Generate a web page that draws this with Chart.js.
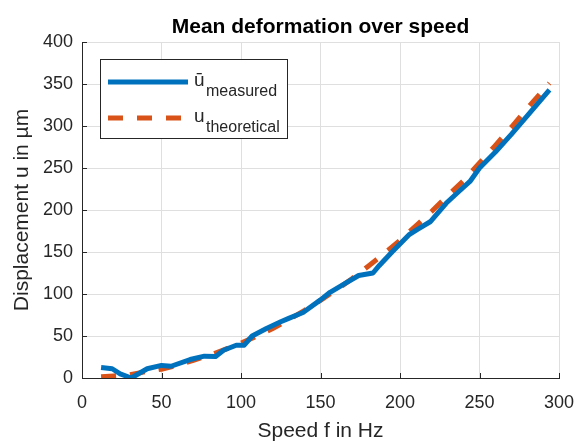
<!DOCTYPE html>
<html>
<head>
<meta charset="utf-8">
<script src="https://cdn.jsdelivr.net/npm/chart.js@4"></script>
<style>
  html, body { margin: 0; padding: 0; background: #fff; }
  #chart { display: block; }
</style>
</head>
<body>
<canvas id="chart" width="577" height="441"></canvas>
<script>
// values
const measuredSpeed = [12, 19, 24, 31, 41, 50, 56, 68, 77, 84, 89, 97, 102, 107, 116, 125, 130, 139, 150, 156,
    165, 174, 183, 187, 195, 206, 211, 219, 229, 237, 244, 250, 260, 270, 280, 294]
const measuredU = [12.5, 11, 5, 0, 11, 15, 14, 22, 26, 25.5, 33, 39, 39, 50, 59, 67, 71, 78, 93, 102,
    112, 122, 125, 134, 150, 171, 177, 186, 208, 222, 234, 250, 269, 290, 312, 343]

const theorySpeed = [12, 20, 30, 40, 50, 60, 70, 80, 90, 100, 110, 120, 130, 140, 150, 160, 170, 180, 190, 200,
    210, 220, 230, 240, 250, 260, 270, 280, 294]
const theoryU = [1.5, 2.5, 4, 7.5, 10.5, 15, 21, 27, 34, 41.5, 50, 59, 69.5, 80.5, 92.5, 105, 118.5, 133, 148, 164,
    181, 198.5, 217, 235, 256, 277, 298.5, 321, 351]

const legendNames = [['ū', 'measured'], ['u', 'theoretical']]
const chartTitle = 'Mean deformation over speed'

const FONT = "'Liberation Sans', Arial, sans-serif"
const BLUE = '#0072BD'
const ORANGE = '#D95319'
const AXIS = '#262626'
const GRID = '#dfdfdf'

function toPoints(xs, ys) {
    return xs.map((x, i) => ({ x: x, y: ys[i] }))
}

// title centred on the plot area, plus inward ticks
const axesExtras = {
    id: 'axesExtras',
    afterDraw(chart) {
        const ctx = chart.ctx
        const area = chart.chartArea
        const xs = chart.scales.x
        const ys = chart.scales.y
        ctx.save()
        ctx.strokeStyle = AXIS
        ctx.lineWidth = 1
        ctx.beginPath()
        for (const t of xs.ticks) {
            const px = Math.round(xs.getPixelForValue(t.value)) + 0.5
            ctx.moveTo(px, area.bottom)
            ctx.lineTo(px, area.bottom - 5)
        }
        for (const t of ys.ticks) {
            const py = Math.round(ys.getPixelForValue(t.value)) + 0.5
            ctx.moveTo(area.left, py)
            ctx.lineTo(area.left + 5, py)
        }
        ctx.stroke()

        ctx.fillStyle = '#000'
        ctx.font = 'bold 21px ' + FONT
        ctx.textAlign = 'center'
        ctx.textBaseline = 'alphabetic'
        ctx.fillText(chartTitle, (area.left + area.right) / 2, 33)
        ctx.restore()
    }
}

// legend with subscripts, drawn in the upper left corner
const subLegend = {
    id: 'subLegend',
    afterDraw(chart) {
        const ctx = chart.ctx
        ctx.save()
        ctx.fillStyle = '#fff'
        ctx.fillRect(100, 59, 188, 80)
        ctx.strokeStyle = AXIS
        ctx.lineWidth = 1
        ctx.strokeRect(100.5, 59.5, 187, 79)

        const rows = [82, 118]
        chart.data.datasets.forEach((ds, i) => {
            const y = rows[i]
            ctx.strokeStyle = ds.borderColor
            ctx.lineWidth = ds.borderWidth
            ctx.lineCap = 'butt'
            ctx.setLineDash(ds.borderDash || [])
            ctx.beginPath()
            ctx.moveTo(108, y)
            ctx.lineTo(188, y)
            ctx.stroke()
            ctx.setLineDash([])

            ctx.fillStyle = AXIS
            ctx.textAlign = 'left'
            ctx.textBaseline = 'alphabetic'
            ctx.font = '19px ' + FONT
            ctx.fillText(legendNames[i][0], 194, y + 4)
            ctx.font = '16px ' + FONT
            ctx.fillText(legendNames[i][1], 206, y + 14)
        })
        ctx.restore()
    }
}

const ctx = document.getElementById('chart').getContext('2d')
const chart = new Chart(ctx, {
    type: 'line',
    data: {
        datasets: [{
            label: 'measured',
            data: toPoints(measuredSpeed, measuredU),
            borderColor: BLUE,
            borderWidth: 5,
            borderJoinStyle: 'round',
            pointRadius: 0,
            tension: 0,
            fill: false
        }, {
            label: 'theoretical',
            data: toPoints(theorySpeed, theoryU),
            borderColor: ORANGE,
            borderWidth: 5,
            borderDash: [15, 14],
            borderCapStyle: 'butt',
            pointRadius: 0,
            tension: 0,
            fill: false
        }]
    },
    options: {
        responsive: false,
        animation: false,
        devicePixelRatio: 1,
        layout: { padding: { top: 42, right: 18, left: 0, bottom: 0 } },
        plugins: {
            legend: { display: false },
            tooltip: { enabled: false }
        },
        scales: {
            x: {
                type: 'linear',
                min: 0,
                max: 300,
                afterFit: function (scale) {
                    scale.height = 63
                    scale.paddingLeft = 0
                    scale.paddingRight = 0
                },
                ticks: { stepSize: 50, color: AXIS, padding: 14, font: { family: FONT, size: 18 }, maxRotation: 0 },
                grid: { color: GRID, drawTicks: false },
                border: { color: AXIS, width: 1 },
                title: {
                    display: true,
                    text: 'Speed f in Hz',
                    color: AXIS,
                    font: { family: FONT, size: 21, lineHeight: 1 },
                    padding: { top: 0, bottom: -1 }
                }
            },
            y: {
                min: 0,
                max: 400,
                afterFit: function (scale) {
                    scale.width = 82
                    scale.paddingTop = 0
                    scale.paddingBottom = 0
                },
                ticks: { stepSize: 50, color: AXIS, padding: 9, font: { family: FONT, size: 18 } },
                grid: { color: GRID, drawTicks: false },
                border: { color: AXIS, width: 1 },
                title: {
                    display: true,
                    text: 'Displacement u in µm',
                    color: AXIS,
                    font: { family: FONT, size: 21, lineHeight: 1 },
                    padding: { top: 12, bottom: 0 }
                }
            }
        }
    },
    plugins: [axesExtras, subLegend]
})
</script>
</body>
</html>
